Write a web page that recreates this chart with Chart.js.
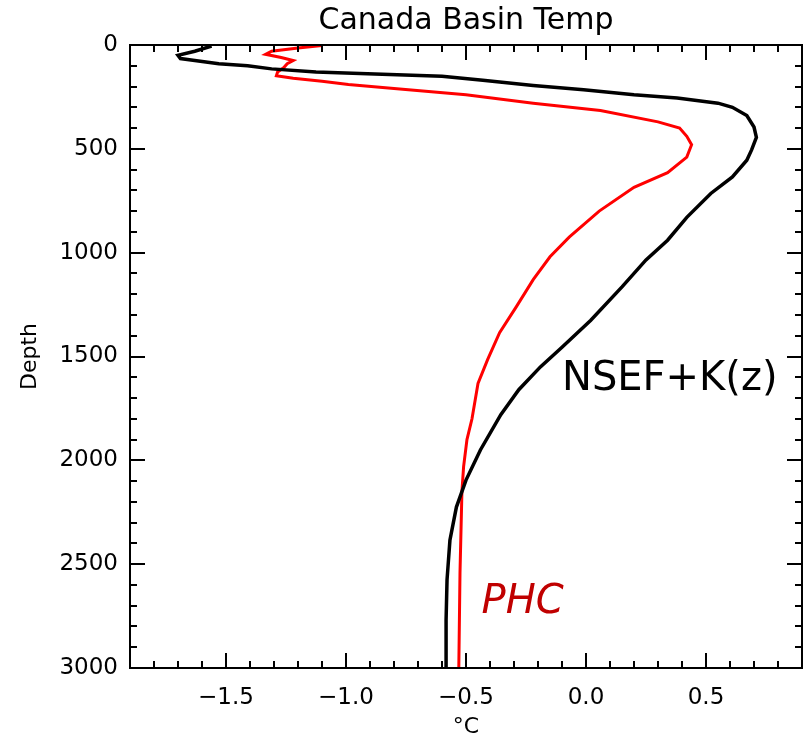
<!DOCTYPE html>
<html>
<head>
<meta charset="utf-8">
<title>Canada Basin Temp</title>
<script src="https://cdn.jsdelivr.net/npm/chart.js@4/dist/chart.umd.min.js"></script>
<style>
  html, body { margin: 0; padding: 0; background: #fff; }
  canvas { display: block; }
</style>
</head>
<body>
<canvas id="tempChart" width="806" height="742"></canvas>
<script>
// depth (m) / temperature (°C) profiles
const depthNSEF = [5, 30, 50, 65, 75, 90, 100, 115, 130, 140, 150, 170, 195, 215, 240, 255, 280, 300, 340, 395, 445, 505, 555, 635, 715, 830, 940, 1035, 1165, 1325, 1455, 1550, 1660, 1780, 1950, 2095, 2225, 2385, 2575, 2770, 3000];
const tempNSEF  = [-1.56, -1.63, -1.70, -1.69, -1.63, -1.53, -1.41, -1.31, -1.125, -0.88, -0.60, -0.43, -0.22, -0.01, 0.20, 0.38, 0.55, 0.61, 0.67, 0.70, 0.71, 0.69, 0.67, 0.61, 0.52, 0.42, 0.34, 0.25, 0.15, 0.02, -0.10, -0.19, -0.28, -0.355, -0.44, -0.50, -0.54, -0.567, -0.579, -0.583, -0.583];

const depthPHC = [2, 15, 30, 45, 60, 75, 90, 110, 130, 148, 160, 175, 190, 210, 240, 280, 315, 370, 400, 440, 480, 540, 615, 685, 800, 925, 1020, 1130, 1260, 1385, 1515, 1630, 1800, 1900, 2030, 2150, 2540, 3000];
const tempPHC  = [-1.10, -1.20, -1.31, -1.335, -1.27, -1.22, -1.245, -1.26, -1.285, -1.29, -1.22, -1.10, -0.99, -0.80, -0.50, -0.22, 0.06, 0.30, 0.39, 0.42, 0.44, 0.42, 0.34, 0.20, 0.055, -0.07, -0.15, -0.22, -0.29, -0.36, -0.41, -0.45, -0.475, -0.496, -0.51, -0.517, -0.525, -0.53];

const xTickValues = [-1.5, -1.0, -0.5, 0.0, 0.5];
const xTickLabels = ["\u22121.5", "\u22121.0", "\u22120.5", "0.0", "0.5"];
const yTickValues = [0, 500, 1000, 1500, 2000, 2500, 3000];
const yTickLabels = ["0", "500", "1000", "1500", "2000", "2500", "3000"];

// curve labels, anchored in data units
const curveLabels = [
  { text: "NSEF+K(z)", temp: -0.10, depth: 1660, color: "#000000", style: "" },
  { text: "PHC", temp: -0.435, depth: 2735, color: "#c00000", style: "italic " }
];

const FONT = "'DejaVu Sans', sans-serif";
Chart.defaults.color = "#000";
Chart.defaults.font.family = FONT;

function toPoints(depths, temps) {
  return depths.map((d, i) => ({ x: temps[i], y: d }));
}

// IDL style frame: box on all four sides, ticks pointing inward
const frameTicks = {
  id: "frameTicks",
  afterDraw(chart) {
    const { ctx, chartArea: a, scales } = chart;
    const xs = scales.x, ys = scales.y;
    ctx.save();
    ctx.strokeStyle = "#000";
    ctx.lineWidth = 2;
    ctx.strokeRect(a.left, a.top, a.right - a.left, a.bottom - a.top);
    ctx.beginPath();
    for (let v = -1.9; v <= 0.9001; v += 0.1) {
      const val = Math.round(v * 10) / 10;
      const px = Math.round(xs.getPixelForValue(val));
      const len = Math.abs(val * 2 - Math.round(val * 2)) < 1e-6 ? 15 : 7;
      ctx.moveTo(px, a.bottom); ctx.lineTo(px, a.bottom - len);
      ctx.moveTo(px, a.top); ctx.lineTo(px, a.top + len);
    }
    for (let d = 0; d <= 3000; d += 100) {
      const py = Math.round(ys.getPixelForValue(d));
      const len = d % 500 === 0 ? 15 : 7;
      ctx.moveTo(a.left, py); ctx.lineTo(a.left + len, py);
      ctx.moveTo(a.right, py); ctx.lineTo(a.right - len, py);
    }
    ctx.stroke();
    ctx.restore();
  }
};

const curveText = {
  id: "curveText",
  afterDatasetsDraw(chart) {
    const { ctx, scales } = chart;
    ctx.save();
    ctx.textBaseline = "alphabetic";
    ctx.textAlign = "left";
    curveLabels.forEach(l => {
      ctx.font = l.style + "40px " + FONT;
      ctx.fillStyle = l.color;
      ctx.fillText(l.text, scales.x.getPixelForValue(l.temp), scales.y.getPixelForValue(l.depth));
    });
    ctx.restore();
  }
};

new Chart(document.getElementById("tempChart"), {
  type: "scatter",
  data: {
    datasets: [
      {
        label: "NSEF+K(z)",
        data: toPoints(depthNSEF, tempNSEF),
        showLine: true,
        borderColor: "#000000",
        borderWidth: 3.5,
        pointRadius: 0,
        tension: 0
      },
      {
        label: "PHC",
        data: toPoints(depthPHC, tempPHC),
        showLine: true,
        borderColor: "#ff0000",
        borderWidth: 3,
        pointRadius: 0,
        tension: 0
      }
    ]
  },
  options: {
    responsive: false,
    animation: false,
    layout: { padding: { top: 0, right: 4, left: 0, bottom: 0 } },
    plugins: {
      legend: { display: false },
      tooltip: { enabled: false },
      title: {
        display: true,
        text: "Canada Basin Temp",
        fullSize: false,
        color: "#000",
        font: { size: 30, weight: "normal", lineHeight: 1.2 },
        padding: { top: 3, bottom: 6 }
      }
    },
    scales: {
      x: {
        type: "linear",
        min: -1.9,
        max: 0.9,
        afterBuildTicks: s => { s.ticks = xTickValues.map(v => ({ value: v })); },
        afterFit: s => { s.height = 74; },
        grid: { display: false, drawTicks: false },
        border: { display: false },
        ticks: {
          padding: 16,
          font: { size: 23 },
          callback: v => xTickLabels[xTickValues.indexOf(v)]
        },
        title: {
          display: true,
          text: "\u00B0C",
          font: { size: 22 },
          padding: { top: 0, bottom: 2 }
        }
      },
      y: {
        type: "linear",
        reverse: true,
        min: 0,
        max: 3000,
        afterBuildTicks: s => { s.ticks = yTickValues.map(v => ({ value: v })); },
        afterFit: s => { s.width = 130; },
        grid: { display: false, drawTicks: false },
        border: { display: false },
        ticks: {
          padding: 12,
          font: { size: 23 },
          callback: v => yTickLabels[yTickValues.indexOf(v)]
        },
        title: {
          display: true,
          text: "Depth",
          font: { size: 22 },
          padding: { top: 17, bottom: 0 }
        }
      }
    }
  },
  plugins: [frameTicks, curveText]
});
</script>
</body>
</html>
